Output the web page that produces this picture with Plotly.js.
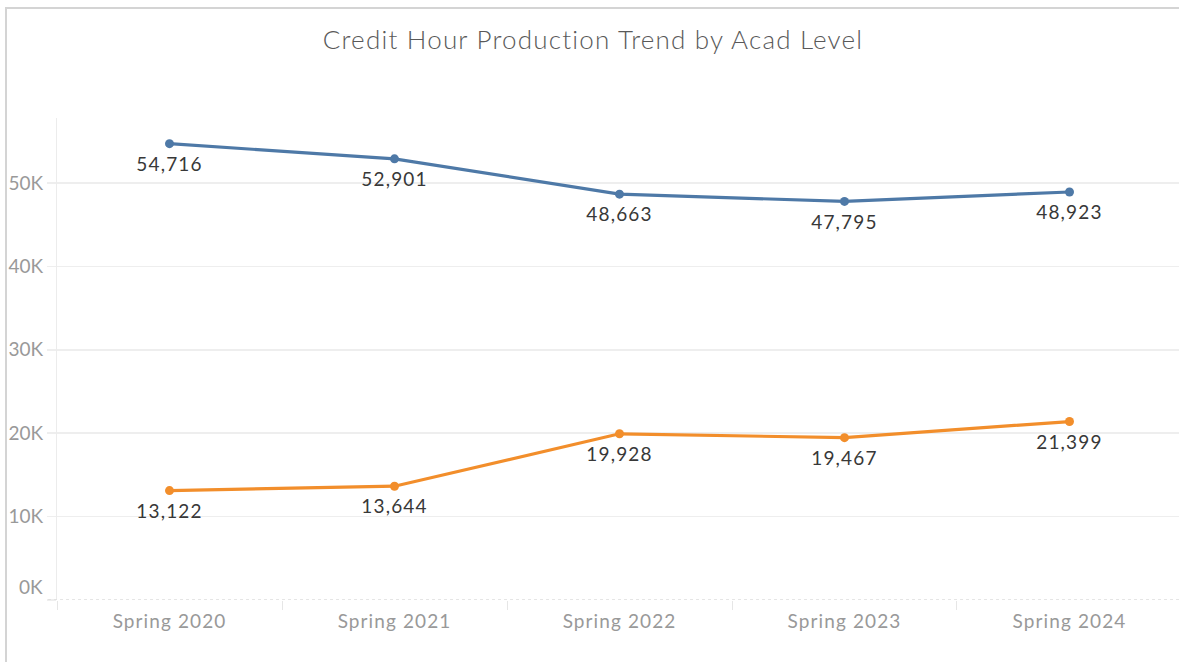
<!DOCTYPE html>
<html>
<head>
<meta charset="utf-8">
<script src="https://cdn.plot.ly/plotly-3.0.1.min.js"></script>
<style>
  html, body { margin: 0; padding: 0; background: #fff; }
  #wrap { position: relative; width: 1179px; height: 662px; overflow: hidden; }
  #chart { position: absolute; left: 0; top: 0; width: 1179px; height: 662px; }
  #frame { position: absolute; left: 5px; top: 7px; width: 1200px; height: 700px;
           border-top: 2px solid #d4d4d4; border-left: 2px solid #d4d4d4; pointer-events: none; }
  #chart .gtitle { letter-spacing: 1.2px; }
  #chart .xtick text { letter-spacing: 1.1px; }
  #chart .textpoint text { letter-spacing: 1.2px; }
</style>
</head>
<body>
<div id="wrap">
  <div id="chart"></div>
  <div id="frame"></div>
</div>
<script>
const terms = ["Spring 2020", "Spring 2021", "Spring 2022", "Spring 2023", "Spring 2024"];
const undergrad = [54716, 52901, 48663, 47795, 48923];
const graduate = [13122, 13644, 19928, 19467, 21399];
const yTickVals = [0, 10000, 20000, 30000, 40000, 50000];
const yTickText = ["", "10K", "20K", "30K", "40K", "50K"];
const zeroLabel = "0K";
const chartTitle = "Credit Hour Production Trend by Acad Level";

const fmt = v => v.toLocaleString("en-US");
const labelFont = { family: "Lato, 'Noto Sans', sans-serif", size: 19, color: "#383838" };

function lineTrace(vals, color) {
  return {
    x: terms, y: vals, type: "scatter", mode: "lines+markers",
    line: { color: color, width: 3.2 },
    marker: { color: color, size: 9 },
    cliponaxis: false, hoverinfo: "skip"
  };
}
function labelTrace(vals) {
  return {
    x: terms, y: vals, type: "scatter", mode: "markers+text",
    marker: { color: "rgba(0,0,0,0)", size: 19 },
    text: vals.map(fmt), textposition: "bottom center", textfont: labelFont,
    cliponaxis: false, hoverinfo: "skip"
  };
}

const data = [
  lineTrace(undergrad, "#4e79a7"), lineTrace(graduate, "#f28e2b"),
  labelTrace(undergrad), labelTrace(graduate)
];

const tickFont = { family: "Lato, sans-serif", size: 19, color: "#999999" };

const layout = {
  width: 1179, height: 662,
  margin: { l: 57, r: 0, t: 118, b: 62, pad: 0 },
  paper_bgcolor: "#ffffff", plot_bgcolor: "#ffffff",
  showlegend: false,
  title: {
    text: chartTitle,
    x: 0.503, xanchor: "center", y: 0.94, yanchor: "middle",
    font: { family: "Lato, sans-serif", size: 26, color: "#595959", weight: 300 }
  },
  xaxis: {
    type: "category",
    range: [-0.5, 4.4867],
    tickson: "boundaries",
    ticks: "outside", ticklen: 9, tickcolor: "#e6e6e6", tickwidth: 1,
    ticklabelstandoff: 8,
    showgrid: false, zeroline: false, showline: false,
    tickfont: tickFont,
    fixedrange: true
  },
  yaxis: {
    range: [0, 57794],
    tickvals: yTickVals, ticktext: yTickText,
    ticks: "outside", ticklen: 9, tickcolor: "#eeeeee", tickwidth: 1.5,
    showgrid: true, gridcolor: "#eeeeee", gridwidth: 1.5,
    zeroline: false,
    showline: true, linecolor: "#ececec", linewidth: 1,
    tickfont: tickFont,
    fixedrange: true
  },
  shapes: [{
    type: "line", xref: "paper", yref: "y",
    x0: -0.008, x1: 1, y0: 0, y1: 0,
    line: { color: "#dddddd", width: 1.5, dash: "dot" }
  }],
  annotations: [{
    text: zeroLabel, xref: "paper", yref: "y", x: 0, y: 0,
    xanchor: "right", yanchor: "middle", xshift: -12, yshift: 14, showarrow: false,
    font: tickFont
  }]
};

Plotly.newPlot("chart", data, layout, { staticPlot: true, displayModeBar: false });
</script>
</body>
</html>
